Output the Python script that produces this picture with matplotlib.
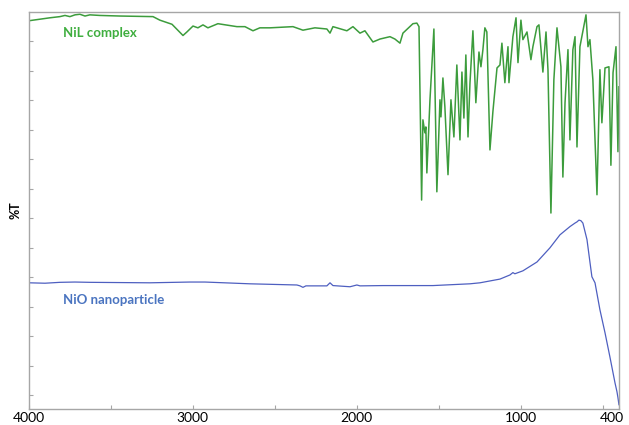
import numpy as np
import matplotlib
matplotlib.use("Agg")
import matplotlib.pyplot as plt
import matplotlib.transforms as mtransforms

# FT-IR spectra (wavenumber in cm-1, %T in tick units of 5)
nil_wn = [4000, 3872, 3811, 3780, 3750, 3719, 3689, 3658, 3628, 3567, 3445, 3243,
          3201, 3127, 3060, 3036, 2999, 2969, 2938, 2908, 2847, 2731, 2682, 2633,
          2591, 2529, 2389, 2328, 2255, 2182, 2163, 2145, 2060, 2023, 1980, 1950,
          1901, 1858, 1797, 1767, 1736, 1718, 1657, 1633, 1620,
          1604, 1596, 1584, 1578, 1572, 1553, 1529, 1511, 1492, 1486, 1474, 1462,
          1443, 1425, 1407, 1389, 1370, 1358, 1346, 1334, 1321, 1309, 1291, 1273,
          1254, 1242, 1230, 1218, 1206, 1187, 1169, 1144, 1126, 1114,
          1096, 1077, 1071, 1047, 1028, 1016, 998, 986, 961, 937, 925, 900, 888,
          864, 845, 833, 815, 797, 778, 754, 742, 729, 711, 699, 681, 668, 656,
          638, 601, 589, 577, 559, 534, 516, 504, 485, 461, 449, 436, 418, 406, 400]
nil_t = [63.5, 64.0, 64.2, 64.4, 64.2, 64.5, 64.6, 64.3, 64.5, 64.4, 64.3, 64.2,
         63.6, 62.9, 61.0, 61.6, 62.6, 62.3, 62.8, 62.3, 63.0, 62.5, 62.5, 61.8,
         62.3, 62.3, 62.5, 61.9, 62.3, 62.1, 61.4, 62.5, 61.8, 62.5, 61.4, 61.8,
         59.9, 60.4, 60.8, 60.4, 59.7, 61.4, 63.0, 63.1, 62.5,
         33.1, 46.7, 44.5, 45.5, 37.7, 50.1, 62.1, 34.5, 50.1, 47.2, 53.8, 48.9,
         37.4, 50.1, 43.8, 56.0, 43.3, 54.8, 47.0, 57.7, 43.8, 52.9, 61.8, 49.6,
         58.2, 55.7, 58.6, 62.3, 61.6, 41.6, 48.1, 55.5, 56.0, 59.7,
         53.0, 59.1, 53.0, 60.8, 64.0, 56.4, 63.6, 60.3, 61.6, 56.9, 59.1, 62.5, 62.8,
         54.8, 61.6, 55.2, 30.9, 53.5, 62.3, 55.7, 37.0, 49.6, 58.6, 43.3, 58.6, 60.8, 42.1,
         59.1, 64.5, 59.1, 60.3, 53.5, 34.0, 55.2, 46.2, 55.5, 55.7, 39.0, 54.7, 59.1, 41.3, 52.3]

nio_wn = [4000, 3902, 3811, 3719, 3628, 3262, 3018, 2926, 2652, 2365, 2346, 2328,
          2310, 2182, 2163, 2145, 2041, 1999, 1980, 1840, 1535, 1309, 1248, 1126,
          1065, 1047, 1035, 986, 900, 821, 760, 699, 668, 656, 644, 632, 620, 595,
          577, 565, 546, 516, 485, 455, 424, 412, 406, 400]
nio_t = [19.07, 19.0, 19.15, 19.2, 19.15, 19.07, 19.2, 19.2, 18.9, 18.7, 18.55, 18.3,
         18.55, 18.55, 19.07, 18.6, 18.4, 18.7, 18.55, 18.6, 18.6, 18.9, 19.07, 19.7,
         20.4, 20.8, 20.6, 21.1, 22.6, 25.0, 27.2, 28.6, 29.2, 29.4, 29.7, 29.6, 29.2, 26.4,
         22.6, 20.1, 19.07, 14.5, 10.6, 6.5, 2.1, 0.6, -0.4, -1.6]

x_ticks = [4000, 3500, 3000, 2500, 2000, 1500, 1000, 500, 400]
x_labels = ["4000", "", "3000", "", "2000", "", "1000", "", "400"]

GREEN = "#3c9c3c"
BLUE = "#4e5fc0"
FRAME = "#a6a6a6"

plt.rcParams["font.family"] = ["Lato", "DejaVu Sans"]

fig = plt.figure(figsize=(6.29, 4.25), dpi=100)
ax = fig.add_axes([0.046, 0.038, 0.938, 0.934])

ax.plot(nil_wn, nil_t, color=GREEN, lw=1.1)
ax.plot(nio_wn, nio_t, color=BLUE, lw=0.9)

ax.text(3793, 61.4, "NiL complex", color="#3fae3f", fontsize=9.5, fontweight="bold",
        va="center", ha="left")
ax.text(3793, 16.2, "NiO nanoparticle", color="#4a74c0", fontsize=9.5, fontweight="bold",
        va="center", ha="left")

ax.set_xlim(4000, 400)
ax.set_ylim(-2.3, 65)
ax.set_xticks(x_ticks)
ax.set_xticklabels(x_labels)
ax.set_yticks(np.arange(0, 65, 5))
ax.set_yticklabels([])
ax.set_ylabel("%T", fontsize=9, fontweight="bold", labelpad=2)

for s in ax.spines.values():
    s.set_color(FRAME)
    s.set_linewidth(1.0)
ax.tick_params(axis="both", direction="in", length=3, color=FRAME, width=0.8)
ax.tick_params(axis="x", labelsize=10, pad=2)

# keep the last label ("400") inside the figure, like the reference
last = ax.get_xticklabels()[-1]
last.set_transform(last.get_transform() + mtransforms.ScaledTranslation(-7 / 100, 0, fig.dpi_scale_trans))

fig.savefig("out.png", dpi=100)
